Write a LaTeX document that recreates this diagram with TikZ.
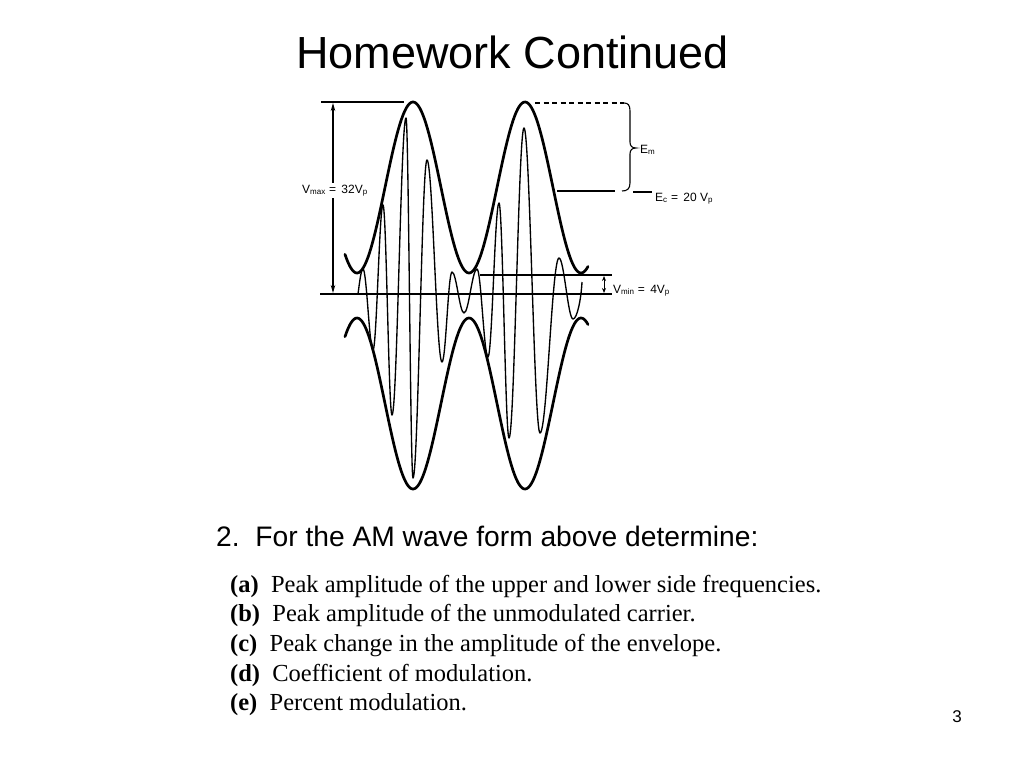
\documentclass[tikz,border=0pt]{standalone}
\usepackage{fontspec}
\setmainfont{Liberation Serif}
\newfontfamily\arial{Liberation Sans}
\usetikzlibrary{arrows.meta}
\begin{document}
\begin{tikzpicture}[x=1pt,y=-1pt,
  envelope/.style={line width=2.7pt, line join=round, line cap=round},
  carrier/.style={line width=1.35pt, line join=round},
  thinline/.style={line width=1.1pt},
  dimarrow/.style={line width=1.1pt, {Stealth[length=8pt,width=4.5pt]}-{Stealth[length=8pt,width=4.5pt]}},
  smallarrow/.style={line width=1pt, {Stealth[length=5pt,width=4pt]}-{Stealth[length=5pt,width=4pt]}},
  lbl/.style={font=\arial\fontsize{12}{13}\selectfont, inner sep=0pt},
  itemtxt/.style={font=\fontsize{24.5}{28}\selectfont, anchor=base west, inner sep=0pt},
]
\useasboundingbox (0,0) rectangle (1024,768);
\fill[white] (0,0) rectangle (1024,768);

% title
\node[font=\arial\fontsize{45}{50}\selectfont, anchor=base, inner sep=0pt] (title) at (512.5,68) {Homework Continued};

% coordinates
\coordinate (topL) at (321,102);
\coordinate (topR) at (404,102);
\coordinate (axL) at (320,294);
\coordinate (axR) at (612,294);
\coordinate (minL) at (480,275);
\coordinate (minR) at (612,275);
\coordinate (dashL) at (535,103);
\coordinate (dashR) at (624,103);
\coordinate (ecL) at (557,191);
\coordinate (ecR) at (615,191);
\coordinate (ec2L) at (633,192);
\coordinate (ec2R) at (652,192);
\coordinate (vmaxT) at (333,103);
\coordinate (vmaxB) at (333,293);
\coordinate (vminT) at (604,276);
\coordinate (vminB) at (604,293);

% reference lines
\draw[thinline] (topL) -- (topR);
\draw[thinline] (axL) -- (axR);
\draw[thinline] (minL) -- (minR);
\draw[thinline, dash pattern=on 5pt off 3.5pt] (dashL) -- (dashR);
\draw[thinline] (ecL) -- (ecR);
\draw[thinline] (ec2L) -- (ec2R);

% brace
\draw[thinline] (dashR) .. controls (628,103) and (630,105) .. (630,111)
  -- (630,142) .. controls (630,146) and (632,148) .. (636,148)
  .. controls (632,148) and (630,150) .. (630,154)
  -- (630,183) .. controls (630,189) and (627,191) .. (622,191);

% envelopes
\draw[envelope] plot[domain=345:588, samples=160] (\x, {187.5-85.5*cos(3.2142857*(\x-413))});
\draw[envelope] plot[domain=345:588, samples=160] (\x, {403.5+85.5*cos(3.2142857*(\x-413))});

% carrier
\draw[carrier] (358,294) .. controls (359.5,283) and (361,269) .. (363,269)
  .. controls +(3.6,0) and +(-3.6,0) .. (373,350)
  .. controls +(3.6,0) and +(-3.6,0) .. (383,205)
  .. controls +(3.3,0) and +(-3.3,0) .. (392,415)
  .. controls +(5.1,0) and +(-5.1,0) .. (406,118)
  .. controls +(2.6,0) and +(-2.6,0) .. (413,478)
  .. controls +(5.1,0) and +(-5.1,0) .. (427,160)
  .. controls +(5.5,0) and +(-5.5,0) .. (442,362)
  .. controls +(3.8,0) and +(-3.8,0) .. (452,272)
  .. controls +(4.4,0) and +(-4.4,0) .. (464,313)
  .. controls +(4.8,0) and +(-4.8,0) .. (477,269)
  .. controls +(4,0) and +(-4,0) .. (488,357)
  .. controls +(4,0) and +(-4,0) .. (499,203)
  .. controls +(3.6,0) and +(-3.6,0) .. (509,438)
  .. controls +(5.5,0) and +(-5.5,0) .. (524,128)
  .. controls +(5.8,0) and +(-5.8,0) .. (540,433)
  .. controls +(7,0) and +(-7,0) .. (559,258)
  .. controls +(5,0) and +(-5,0) .. (573,319)
  .. controls (577,319) and (581,300) .. (582,282);

% dimension arrows
\draw[dimarrow] (vmaxT) -- (vmaxB);
\draw[smallarrow] (vminT) -- (vminB);

% labels
\node[lbl, fill=white, inner sep=1.5pt, anchor=base west] (vmax) at (300.5,193) {V\textsubscript{max} =\, 32V\textsubscript{p}};
\node[lbl, anchor=base west] (em) at (640,153) {E\textsubscript{m}};
\node[lbl, anchor=base west] (ec) at (655,201) {E\textsubscript{c} = \,20 V\textsubscript{p}};
\node[lbl, anchor=base west] (vmin) at (613,293) {V\textsubscript{min} = \,4V\textsubscript{p}};

% question
\node[font=\arial\fontsize{28.2}{32}\selectfont, anchor=base west, inner sep=0pt] (q) at (216,546) {2.\ \ For the AM wave form above determine:};
\node[itemtxt] (ia) at (230,592) {\textbf{(a)}\ \ Peak amplitude of the upper and lower side frequencies.};
\node[itemtxt] (ib) at (230,621.7) {\textbf{(b)}\ \ Peak amplitude of the unmodulated carrier.};
\node[itemtxt] (ic) at (230,651.4) {\textbf{(c)}\ \ Peak change in the amplitude of the envelope.};
\node[itemtxt] (id) at (230,681.1) {\textbf{(d)}\ \ Coefficient of modulation.};
\node[itemtxt] (ie) at (230,710.8) {\textbf{(e)}\ \ Percent modulation.};

% page number
\node[font=\arial\fontsize{17}{20}\selectfont, inner sep=0pt] (pg) at (957,717) {3};
\end{tikzpicture}
\end{document}
